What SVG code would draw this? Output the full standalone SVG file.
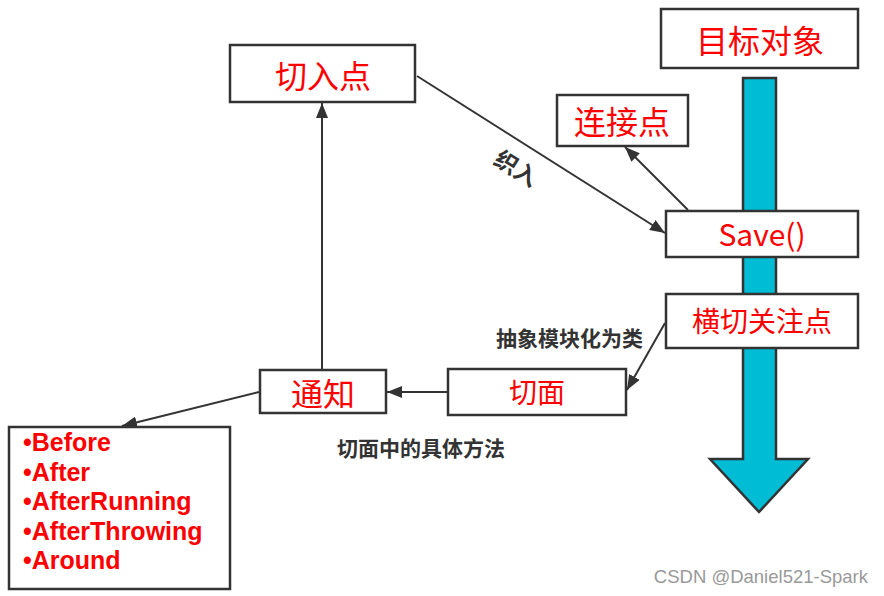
<svg xmlns="http://www.w3.org/2000/svg" width="884" height="596" viewBox="0 0 884 596">
<defs>
<marker id="ah" markerUnits="userSpaceOnUse" markerWidth="16" markerHeight="12" refX="15" refY="6" orient="auto">
<path d="M0,0 L15,6 L0,12 z" fill="#333"/>
</marker>
<style>
.box{fill:#fff;stroke:#333;stroke-width:2.5}
.lbl{fill:#f00;font-family:"Noto Sans CJK SC","Liberation Sans",sans-serif;text-anchor:middle;dominant-baseline:central}
.cn{fill:none;stroke:#333;stroke-width:2}
.note{fill:#333;font-family:"Noto Sans CJK SC","Liberation Sans",sans-serif;font-weight:bold;font-size:21px}
.item{fill:#f00;font-family:"Liberation Sans",Arial,sans-serif;font-weight:bold;font-size:25px}
</style>
</defs>
<rect width="884" height="596" fill="#fff"/>
<g id="flow">
<polygon points="743,78 776,78 776,459 808,459 759,512 710,459 743,459" fill="#00bcd4" stroke="#333" stroke-width="2.5" stroke-linejoin="miter"/>
</g>
<g id="connectors">
<line class="cn" x1="417" y1="76" x2="665" y2="233" marker-end="url(#ah)"/>
<line class="cn" x1="688" y1="210" x2="625" y2="147" marker-end="url(#ah)"/>
<line class="cn" x1="665" y1="323" x2="627" y2="390" marker-end="url(#ah)"/>
<line class="cn" x1="448" y1="392" x2="387" y2="392" marker-end="url(#ah)"/>
<line class="cn" x1="322" y1="370" x2="322" y2="103" marker-end="url(#ah)"/>
<line class="cn" x1="259" y1="392" x2="122" y2="426" marker-end="url(#ah)"/>
</g>
<g id="target">
<rect class="box" x="661" y="9" width="197" height="59"/>
<text class="lbl" x="760" y="39" font-size="32">目标对象</text>
</g>
<g id="pointcut">
<rect class="box" x="230" y="45" width="185" height="57"/>
<text class="lbl" x="323" y="74" font-size="32">切入点</text>
</g>
<g id="joinpoint">
<rect class="box" x="557" y="95" width="131" height="51"/>
<text class="lbl" x="622" y="120" font-size="32">连接点</text>
</g>
<g id="save">
<rect class="box" x="666" y="211" width="192" height="46"/>
<text class="lbl" x="762" y="233" font-size="30">Save()</text>
</g>
<g id="crosscut">
<rect class="box" x="666" y="294" width="192" height="54"/>
<text class="lbl" x="762" y="320" font-size="28">横切关注点</text>
</g>
<g id="aspect">
<rect class="box" x="448" y="369" width="178" height="46"/>
<text class="lbl" x="537" y="391" font-size="28">切面</text>
</g>
<g id="advice">
<rect class="box" x="260" y="370" width="126" height="43"/>
<text class="lbl" x="323" y="392" font-size="32">通知</text>
</g>
<g id="advicetypes">
<rect class="box" x="9" y="427" width="221" height="162"/>
<text class="item" x="23" y="451">•Before</text>
<text class="item" x="23" y="481">•After</text>
<text class="item" x="23" y="510">•AfterRunning</text>
<text class="item" x="23" y="540">•AfterThrowing</text>
<text class="item" x="23" y="569">•Around</text>
</g>
<g id="labels">
<text class="note" x="517" y="167" text-anchor="middle" dominant-baseline="central" transform="rotate(32 517 167)" style="font-size:23px">织入</text>
<text class="note" x="496" y="346">抽象模块化为类</text>
<text class="note" x="337" y="456">切面中的具体方法</text>
<text x="868" y="583" text-anchor="end" fill="#999" font-family="'Liberation Sans',sans-serif" font-size="18.5">CSDN @Daniel521-Spark</text>
</g>
</svg>
